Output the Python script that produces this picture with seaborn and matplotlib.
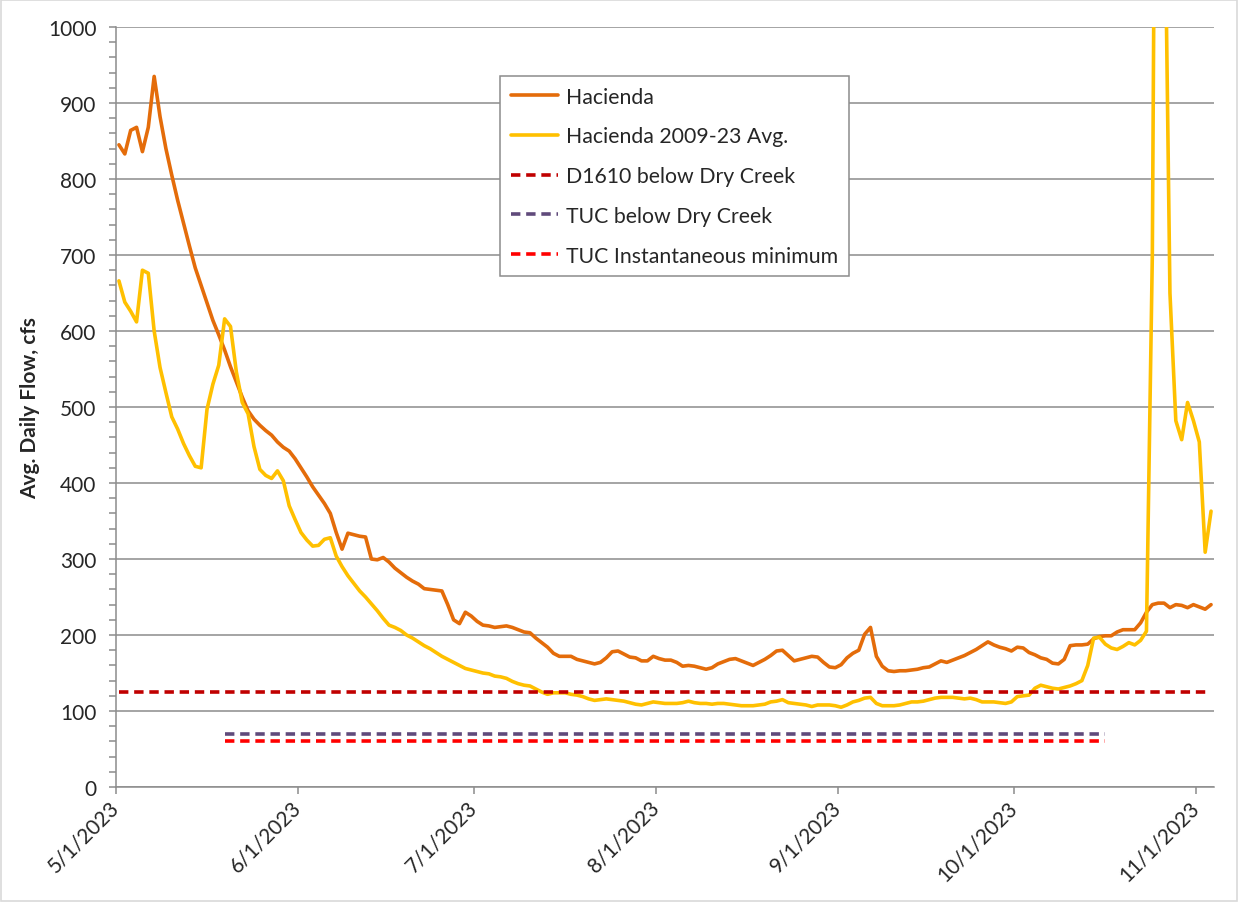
import pandas as pd
import numpy as np
import matplotlib
matplotlib.use('Agg')
import matplotlib.pyplot as plt
from matplotlib.ticker import MultipleLocator
from matplotlib.patches import Rectangle
import seaborn as sns

# daily flows, 5/1/2023 .. 11/3/2023
start_date = '2023-05-01'
hacienda = [
    845, 833, 864, 868, 836, 868, 935, 882, 840, 805,
    772, 742, 712, 683, 660, 637, 614, 595, 575, 553,
    533, 513, 495, 484, 476, 469, 463, 454, 447, 442,
    432, 420, 408, 395, 384, 373, 360, 335, 313, 334,
    332, 330, 329, 300, 299, 302, 296, 288, 282, 276,
    271, 267, 261, 260, 259, 258, 240, 220, 215, 230,
    225, 218, 213, 212, 210, 211, 212, 210, 207, 204,
    203, 196, 190, 184, 176, 172, 172, 172, 168, 166,
    164, 162, 164, 170, 178, 179, 175, 171, 170, 166,
    166, 172, 169, 167, 167, 164, 159, 160, 159, 157,
    155, 157, 162, 165, 168, 169, 166, 163, 160, 164,
    168, 173, 179, 180, 173, 166, 168, 170, 172, 171,
    164, 158, 157, 161, 170, 176, 180, 201, 210, 172,
    159, 153, 152, 153, 153, 154, 155, 157, 158, 162,
    166, 164, 167, 170, 173, 177, 181, 186, 191, 187,
    184, 182, 179, 184, 183, 177, 174, 170, 168, 163,
    162, 168, 186, 187, 187, 188, 195, 198, 199, 199,
    204, 207, 207, 207, 216, 230, 240, 242, 242, 236,
    240, 239, 236, 240, 237, 234, 240,
]
hacienda_avg = [
    666, 638, 626, 612, 680, 676, 600, 552, 519, 487,
    471, 452, 436, 422, 420, 497, 530, 555, 616, 606,
    546, 506, 491, 448, 418, 410, 406, 416, 403, 370,
    352, 335, 325, 317, 318, 326, 328, 304, 290, 278,
    268, 258, 250, 241, 232, 222, 213, 210, 206, 200,
    196, 191, 186, 182, 177, 172, 168, 164, 160, 156,
    154, 152, 150, 149, 146, 145, 143, 139, 136, 134,
    133, 129, 125, 122, 124, 124, 124, 122, 121, 119,
    116, 114, 115, 116, 115, 114, 113, 111, 109, 108,
    110, 112, 111, 110, 110, 110, 111, 113, 111, 110,
    110, 109, 110, 110, 109, 108, 107, 107, 107, 108,
    109, 112, 113, 115, 111, 110, 109, 108, 106, 108,
    108, 108, 107, 105, 108, 112, 114, 117, 118, 110,
    107, 107, 107, 108, 110, 112, 112, 113, 115, 117,
    118, 118, 118, 117, 116, 117, 115, 112, 112, 112,
    111, 110, 112, 119, 120, 121, 130, 134, 132, 130,
    129, 131, 133, 136, 140, 160, 196, 197, 188, 183,
    181, 185, 190, 187, 193, 205, 700, 2000, 1250, 650,
    482, 457, 506, 482, 454, 309, 363,
]

# flow requirements
d1610_flow = 125
tuc_flow = 70
tuc_min_flow = 60
tuc_start = '2023-05-19'
tuc_end = '2023-10-16'

tick_dates = ['2023-05-01', '2023-06-01', '2023-07-01', '2023-08-01',
              '2023-09-01', '2023-10-01', '2023-11-01']
tick_labels = ['5/1/2023', '6/1/2023', '7/1/2023', '8/1/2023',
               '9/1/2023', '10/1/2023', '11/1/2023']

sns.set_style('white')
plt.rcParams['font.family'] = ['Lato', 'DejaVu Sans']

# excel date axis draws each day in the middle of its slot
dates = pd.date_range(start_date, periods=len(hacienda)) + pd.Timedelta(hours=12)
df = pd.DataFrame({'date': dates, 'hacienda': hacienda, 'avg': hacienda_avg})
df['d1610'] = d1610_flow
in_tuc = (df['date'] >= pd.Timestamp(tuc_start)) & (df['date'] <= pd.Timestamp(tuc_end) + pd.Timedelta(days=1))
tuc = df[in_tuc].copy()
tuc['tuc'] = tuc_flow
tuc['tuc_min'] = tuc_min_flow

fig = plt.figure(figsize=(12.38, 9.03), dpi=100)
ax = fig.add_axes([0.0937, 0.1273, 0.8869, 0.8417])

lw = 2.6
dash = (0, (2.6, 1.6))
sns.lineplot(data=df, x='date', y='hacienda', ax=ax, color='#E46C0A', lw=lw, label='Hacienda')
sns.lineplot(data=df, x='date', y='avg', ax=ax, color='#FFC000', lw=lw, label='Hacienda 2009-23 Avg.')
sns.lineplot(data=df, x='date', y='d1610', ax=ax, color='#C00000', lw=lw, linestyle=dash,
             label='D1610 below Dry Creek')
sns.lineplot(data=tuc, x='date', y='tuc', ax=ax, color='#604A7B', lw=lw, linestyle=dash,
             label='TUC below Dry Creek')
sns.lineplot(data=tuc, x='date', y='tuc_min', ax=ax, color='#FF0000', lw=lw, linestyle=dash,
             label='TUC Instantaneous minimum')

ax.set_xlim(pd.Timestamp(start_date), pd.Timestamp(start_date) + pd.Timedelta(days=len(hacienda)))
ax.set_ylim(0, 1000)
ax.set_yticks(range(0, 1001, 100))
ax.yaxis.set_minor_locator(MultipleLocator(20))
ax.set_xticks(pd.to_datetime(tick_dates))
ax.set_xticklabels(tick_labels, rotation=45, ha='right', va='center', rotation_mode='anchor')

grid_c = '#8C8C8C'
ax.grid(axis='y', color=grid_c, lw=1.1)
ax.grid(axis='x', visible=False)
ax.set_axisbelow(True)
for s in ['top', 'right']:
    ax.spines[s].set_visible(False)
for s in ['left', 'bottom']:
    ax.spines[s].set_color(grid_c)
    ax.spines[s].set_linewidth(1.1)

ax.tick_params(axis='y', which='major', left=True, length=5, width=1.1, color=grid_c,
               labelsize=15, pad=9)
ax.tick_params(axis='y', which='minor', left=True, length=5, width=1.1, color=grid_c)
ax.tick_params(axis='x', which='major', bottom=True, length=5, width=1.1, color=grid_c,
               labelsize=15, pad=7)

ax.set_xlabel('')
ax.set_ylabel('Avg. Daily Flow, cfs', fontsize=15, fontweight='bold', labelpad=6)

leg = ax.legend(loc='upper left', bbox_to_anchor=(0.3497, 0.9355), frameon=True, fancybox=False,
                edgecolor=grid_c, framealpha=1, fontsize=15.3, handlelength=2.25,
                labelspacing=0.93, borderpad=0.5, handletextpad=0.35, borderaxespad=0)
leg.get_frame().set_linewidth(1.1)

fig.patches.append(Rectangle((0.001, 0.001), 0.998, 0.998, transform=fig.transFigure,
                             fill=False, edgecolor='#D9D9D9', lw=1.2))

fig.savefig('out.png', dpi=100)
